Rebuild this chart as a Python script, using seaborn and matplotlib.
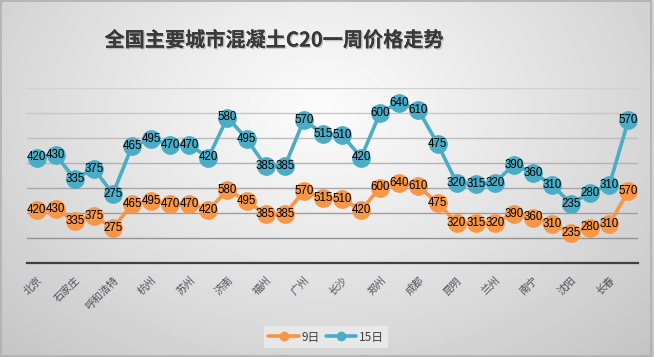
import numpy as np
import pandas as pd
import matplotlib
matplotlib.use("Agg")
import matplotlib.pyplot as plt
import matplotlib.patheffects as pe
import seaborn as sns

# ---- data ----
title = "全国主要城市混凝土C20一周价格走势"
city_labels = ["北京", "石家庄", "呼和浩特", "杭州", "苏州", "济南", "福州", "广州",
               "长沙", "郑州", "成都", "昆明", "兰州", "南宁", "沈阳", "长春"]
series_names = ["9日", "15日"]
price_9 = [420, 430, 335, 375, 275, 465, 495, 470, 470, 420, 580, 495, 385, 385, 570, 515,
           510, 420, 600, 640, 610, 475, 320, 315, 320, 390, 360, 310, 235, 280, 310, 570]
price_15 = [420, 430, 335, 375, 275, 465, 495, 470, 470, 420, 580, 495, 385, 385, 570, 515,
            510, 420, 600, 640, 610, 475, 320, 315, 320, 390, 360, 310, 235, 280, 310, 570]
colors = ["#F79646", "#4BACC6"]

n = len(price_9)
idx = np.arange(n)
stack_9 = np.array(price_9, dtype=float)
stack_15 = stack_9 + np.array(price_15, dtype=float)  # stacked line chart

df = pd.DataFrame({
    "idx": np.concatenate([idx, idx]),
    "value": np.concatenate([stack_9, stack_15]),
    "label": price_9 + price_15,
    "series": [series_names[0]] * n + [series_names[1]] * n,
})

sns.set_theme(style="white")
plt.rcParams["font.family"] = ["Noto Sans CJK SC", "DejaVu Sans"]

W, H = 654, 357
fig = plt.figure(figsize=(W / 100, H / 100), dpi=100)

# background radial gradient
bg = fig.add_axes([0, 0, 1, 1], zorder=-10)
yy, xx = np.mgrid[0:H, 0:W]
r = np.sqrt(((xx - 320) / 1.15) ** 2 + ((yy - 110) / 0.85) ** 2)
r = r / r.max()
val = 0.985 - 0.22 * np.clip(r, 0, 1) ** 1.1
bg.imshow(val, cmap="gray", vmin=0, vmax=1, aspect="auto", extent=[0, 1, 0, 1], origin="upper")
bg.set_axis_off()
bg.add_patch(plt.Rectangle((0.001, 0.002), 0.994, 0.996, transform=bg.transAxes,
                           fill=False, edgecolor="#b0b0b0", lw=1.2))

left, right = 27 / W, 638 / W
bottom, top = 1 - 262.5 / H, 1 - 87.5 / H
ax = fig.add_axes([left, bottom, right - left, top - bottom])
ax.set_facecolor("none")

# gridlines
levels = np.arange(200, 1401, 200)
for i, lv in enumerate(levels):
    c = 0.58 + 0.24 * (i / (len(levels) - 1))
    ax.axhline(lv, color=(c, c, c), lw=1.0, zorder=0)

sns.lineplot(data=df, x="idx", y="value", hue="series", hue_order=series_names,
             palette=colors, marker="o", markersize=13.5, linewidth=2.6,
             markeredgewidth=0, ax=ax, legend=True, zorder=3)

for x, y, lab in zip(df["idx"], df["value"], df["label"]):
    ax.text(x, y, str(lab), ha="center", va="center", fontsize=8.3,
            family=["Liberation Sans", "DejaVu Sans"], color="black", zorder=5)

ax.set_xlim(-0.5, n - 0.5)
ax.set_ylim(0, 1400)
ax.set_yticks([])
ax.set_xticks(idx[::2])
ax.set_xticklabels(city_labels, rotation=45, ha="right", va="top",
                   rotation_mode="anchor", fontsize=7.5, color="#505060")
ax.tick_params(axis="x", length=0, pad=9)
ax.set_xlabel("")
ax.set_ylabel("")
for s in ["top", "right", "left"]:
    ax.spines[s].set_visible(False)
ax.spines["bottom"].set_color("#404040")
ax.spines["bottom"].set_linewidth(1.6)

handles, labels = ax.get_legend_handles_labels()
for h in handles:
    h.set_markersize(7)
ax.get_legend().remove()
leg = fig.legend(handles, labels, loc="center", bbox_to_anchor=(326 / W, 1 - 337 / H),
                 ncol=2, frameon=True, fontsize=8.5, handlelength=2.6, handletextpad=0.2,
                 columnspacing=0.5, borderpad=0.35, fancybox=False)
leg.get_frame().set_facecolor("#e8e8e8")
leg.get_frame().set_edgecolor("none")
leg.get_frame().set_alpha(1)
for t in leg.get_texts():
    t.set_color("#404040")

fig.text(274 / W, 1 - 40 / H, title, ha="center", va="center", fontsize=14.5,
         fontweight="bold", color="#3a3a3a",
         path_effects=[pe.withSimplePatchShadow(offset=(1, -1), shadow_rgbFace="#888888", alpha=0.4),
                       pe.Normal()])

fig.savefig("out.png", dpi=100)
